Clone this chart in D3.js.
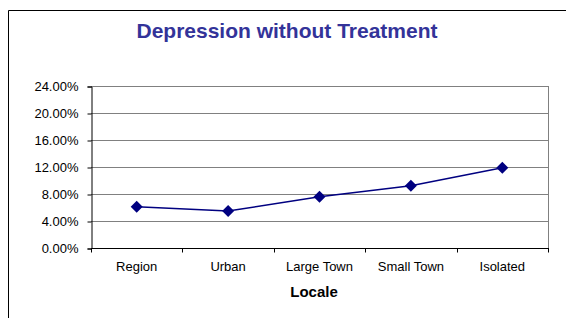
<!DOCTYPE html>
<html>
<head>
<meta charset="utf-8">
<script src="https://cdn.jsdelivr.net/npm/d3@7"></script>
<style>
  body { margin: 0; background: #fff; }
  svg { display: block; font-family: Arial, "Liberation Sans", sans-serif; }
</style>
</head>
<body>
<div id="chart"></div>
<script>
const locales = ['Region', 'Urban', 'Large Town', 'Small Town', 'Isolated'];
const rates = [0.0612, 0.0548, 0.076, 0.0923, 0.119];
const yTicks = [0, 0.04, 0.08, 0.12, 0.16, 0.20, 0.24];

const width = 566, height = 318;
const plot = { left: 91, right: 548, top: 86, bottom: 248 };

const svg = d3.select('#chart').append('svg')
  .attr('width', width).attr('height', height);

// outer chart frame (runs off the right and bottom edges)
svg.append('path')
  .attr('d', `M8.5,${height + 5} V10.5 H${width + 5}`)
  .attr('fill', 'none').attr('stroke', '#000').attr('stroke-width', 1);

svg.append('text')
  .attr('x', 287).attr('y', 38)
  .attr('text-anchor', 'middle')
  .attr('font-size', 21).attr('font-weight', 'bold')
  .attr('fill', '#333399')
  .text('Depression without Treatment');

const x = d3.scaleBand().domain(locales).range([plot.left, plot.right]);
const y = d3.scaleLinear().domain([0, 0.24]).range([plot.bottom, plot.top]);

// gridlines
svg.append('g')
  .selectAll('line')
  .data(yTicks.filter(d => d > 0))
  .join('line')
  .attr('x1', plot.left).attr('x2', plot.right)
  .attr('y1', d => Math.round(y(d)) + 0.5).attr('y2', d => Math.round(y(d)) + 0.5)
  .attr('stroke', '#808080').attr('stroke-width', 1);

// right border of plot area
svg.append('line')
  .attr('x1', plot.right + 0.5).attr('x2', plot.right + 0.5)
  .attr('y1', plot.top).attr('y2', plot.bottom)
  .attr('stroke', '#808080');

// y axis
const yAxis = svg.append('g')
  .attr('transform', `translate(${plot.left + 0.5},0.5)`)
  .call(d3.axisLeft(y).tickValues(yTicks).tickSize(4).tickPadding(9)
    .tickFormat(d3.format('.2%')));
yAxis.selectAll('text').attr('font-size', 13).attr('fill', '#000')
  .attr('font-family', 'Arial, "Liberation Sans", sans-serif');

// x axis
const xAxis = svg.append('g')
  .attr('transform', `translate(0,${plot.bottom + 0.5})`);
xAxis.append('line')
  .attr('x1', plot.left).attr('x2', plot.right + 1)
  .attr('stroke', '#000');
xAxis.selectAll('line.tick')
  .data(locales.map(d => x(d)).concat([plot.right]))
  .join('line').attr('class', 'tick')
  .attr('x1', d => Math.round(d) + 0.5).attr('x2', d => Math.round(d) + 0.5)
  .attr('y1', 0).attr('y2', 4)
  .attr('stroke', '#000');
xAxis.selectAll('text')
  .data(locales)
  .join('text')
  .attr('x', d => x(d) + x.bandwidth() / 2)
  .attr('y', 22)
  .attr('text-anchor', 'middle')
  .attr('font-size', 13)
  .text(d => d);

svg.append('text')
  .attr('x', 314).attr('y', 297)
  .attr('text-anchor', 'middle')
  .attr('font-size', 15).attr('font-weight', 'bold')
  .text('Locale');

// series
const line = d3.line()
  .x((d, i) => x(locales[i]) + x.bandwidth() / 2)
  .y(d => y(d));

svg.append('path')
  .datum(rates)
  .attr('d', line)
  .attr('fill', 'none')
  .attr('stroke', '#000080')
  .attr('stroke-width', 1.5);

svg.append('g')
  .selectAll('path')
  .data(rates)
  .join('path')
  .attr('transform', (d, i) => `translate(${x(locales[i]) + x.bandwidth() / 2},${y(d)})`)
  .attr('d', 'M0,-6 L6,0 L0,6 L-6,0 Z')
  .attr('fill', '#000080');
</script>
</body>
</html>
